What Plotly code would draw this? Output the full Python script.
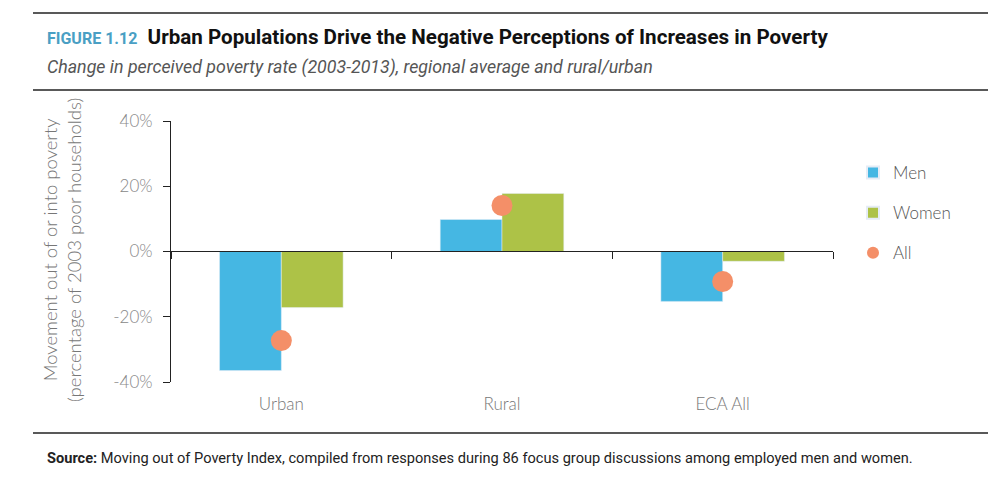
import plotly.graph_objects as go

categories = ["Urban", "Rural", "ECA All"]
men = [-36.5, 9.8, -15.3]
women = [-17.2, 17.8, -3.0]
all_ = [-27.3, 14.1, -9.2]
ytick_vals = [-40, -20, 0, 20, 40]
ytick_text = ["-40%", "-20%", "0%", "20%", "40%"]

W, H = 1002, 485
L, R, T, B = 171, 833, 121, 382


def px(x):
    return (x - L) / (R - L)


def py(y):
    return (B - y) / (B - T)


LIGHT = "Lato"
NARROW = "Liberation Sans Narrow, Arial Narrow, Roboto, sans-serif"

fig = go.Figure()
fig.add_trace(go.Bar(x=categories, y=men, name="Men", marker_color="#45b7e3",
                     legendgroup="a"))
fig.add_trace(go.Bar(x=categories, y=women, name="Women", marker_color="#adc247",
                     legendgroup="b"))
fig.add_trace(go.Scatter(x=categories, y=all_, name="All", mode="markers",
                         marker=dict(size=21, color="#f48f68"), legendgroup="c"))

fig.update_layout(
    width=W, height=H,
    margin=dict(l=L, r=W - R, t=T, b=H - B),
    plot_bgcolor="white", paper_bgcolor="white",
    barmode="group", bargap=0.44, bargroupgap=0,
    showlegend=True,
    legend=dict(x=px(853), y=py(155), xanchor="left", yanchor="top",
                font=dict(family=LIGHT, size=17, color="#555", weight=300),
                tracegroupgap=15, itemwidth=30, itemsizing="constant",
                bgcolor="rgba(0,0,0,0)"),
    xaxis=dict(type="category", range=[-0.5, 2.5], anchor="free", position=py(251),
               showline=True, linecolor="#222", linewidth=1.2,
               ticks="outside", ticklen=7, tickcolor="#222", tickson="boundaries",
               ticklabelstandoff=137,
               tickfont=dict(family=LIGHT, size=17, color="#777", weight=300),
               showgrid=False, zeroline=False),
    yaxis=dict(range=[-40, 40], tickvals=ytick_vals, ticktext=ytick_text,
               showline=True, linecolor="#222", linewidth=1.2,
               ticks="outside", ticklen=7, tickcolor="#222",
               tickfont=dict(family=LIGHT, size=17, color="#888", weight=300),
               showgrid=False, zeroline=False, ticklabelstandoff=7),
)

# rules
for yy in (13, 90, 433):
    fig.add_shape(type="line", xref="paper", yref="paper",
                  x0=px(33), x1=px(988), y0=py(yy), y1=py(yy),
                  line=dict(color="#222", width=1.3))

fig.add_annotation(xref="paper", yref="paper", x=px(45), y=py(37),
                   xanchor="left", yanchor="middle", showarrow=False,
                   text="<b><span style='color:#4a9fc4;font-size:16px'>FIGURE 1.12</span>"
                        "  Urban Populations Drive the Negative Perceptions of Increases in Poverty</b>",
                   font=dict(family=NARROW, size=20.6, color="#111"))
fig.add_annotation(xref="paper", yref="paper", x=px(45), y=py(67),
                   xanchor="left", yanchor="middle", showarrow=False,
                   text="<i>Change in perceived poverty rate (2003-2013), regional average and rural/urban</i>",
                   font=dict(family=NARROW, size=17.8, color="#555"))
fig.add_annotation(xref="paper", yref="paper", x=px(45), y=py(458),
                   xanchor="left", yanchor="middle", showarrow=False,
                   text="<b>Source:</b> Moving out of Poverty Index, compiled from responses during 86 focus group discussions among employed men and women.",
                   font=dict(family=NARROW, size=14.6, color="#222"))
fig.add_annotation(xref="paper", yref="paper", x=px(62), y=py(250),
                   xanchor="center", yanchor="middle", showarrow=False, textangle=-90,
                   text="Movement out of or into poverty<br>(percentage of 2003 poor households)",
                   font=dict(family=LIGHT, size=18.5, color="#777", weight=300))

fig.write_html("out.html")
